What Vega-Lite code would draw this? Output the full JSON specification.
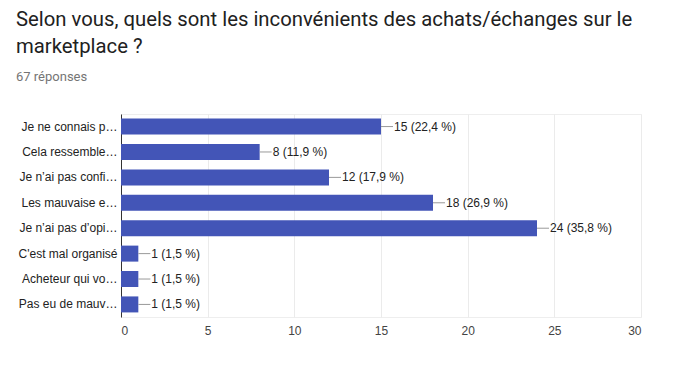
{
  "$schema": "https://vega.github.io/schema/vega-lite/v6.json",
  "autosize": "none",
  "width": 520,
  "height": 203,
  "padding": {"left": 121, "top": 114, "right": 40, "bottom": 58},
  "background": "white",
  "title": {
    "text": ["Selon vous, quels sont les inconvénients des achats/échanges sur le", "marketplace ?"],
    "subtitle": "67 réponses",
    "anchor": "start",
    "frame": "group",
    "dx": -105,
    "offset": 30,
    "font": "Roboto",
    "fontSize": 20.3,
    "fontWeight": "normal",
    "color": "#212121",
    "lineHeight": 27,
    "subtitleFont": "Roboto",
    "subtitleFontSize": 13,
    "subtitleColor": "#757575",
    "subtitlePadding": 14
  },
  "config": {
    "view": {"stroke": "#eeeeee"},
    "font": "Liberation Sans"
  },
  "data": {
    "values": [
      {"label": "Je ne connais p…", "count": 15, "text": "15 (22,4 %)"},
      {"label": "Cela ressemble…", "count": 8, "text": "8 (11,9 %)"},
      {"label": "Je n’ai pas confi…", "count": 12, "text": "12 (17,9 %)"},
      {"label": "Les mauvaise e…", "count": 18, "text": "18 (26,9 %)"},
      {"label": "Je n’ai pas d’opi…", "count": 24, "text": "24 (35,8 %)"},
      {"label": "C'est mal organisé", "count": 1, "text": "1 (1,5 %)"},
      {"label": "Acheteur qui vo…", "count": 1, "text": "1 (1,5 %)"},
      {"label": "Pas eu de mauv…", "count": 1, "text": "1 (1,5 %)"}
    ]
  },
  "encoding": {
    "y": {
      "field": "label",
      "type": "nominal",
      "sort": null,
      "scale": {"paddingInner": 0.37, "paddingOuter": 0.18},
      "axis": {
        "title": null,
        "ticks": false,
        "domainColor": "#333333",
        "labelFont": "Liberation Sans",
        "labelFontSize": 12,
        "labelColor": "#222222",
        "labelPadding": 4,
        "labelLimit": 200
      }
    }
  },
  "layer": [
    {
      "mark": {"type": "bar", "color": "#4355b7"},
      "encoding": {
        "x": {
          "field": "count",
          "type": "quantitative",
          "scale": {"domain": [0, 30], "nice": false},
          "axis": {
            "title": null,
            "values": [0, 5, 10, 15, 20, 25, 30],
            "ticks": false,
            "domain": false,
            "gridColor": "#ebebeb",
            "labelFont": "Liberation Sans",
            "labelFontSize": 12,
            "labelColor": "#444444",
            "labelPadding": 8
          }
        }
      }
    },
    {
      "mark": {"type": "rule", "color": "#999999", "x2Offset": 12},
      "encoding": {
        "x": {"field": "count", "type": "quantitative"},
        "x2": {"field": "count"}
      }
    },
    {
      "mark": {"type": "text", "align": "left", "dx": 13, "font": "Liberation Sans", "fontSize": 12, "color": "#222222"},
      "encoding": {
        "x": {"field": "count", "type": "quantitative"},
        "text": {"field": "text"}
      }
    }
  ]
}
